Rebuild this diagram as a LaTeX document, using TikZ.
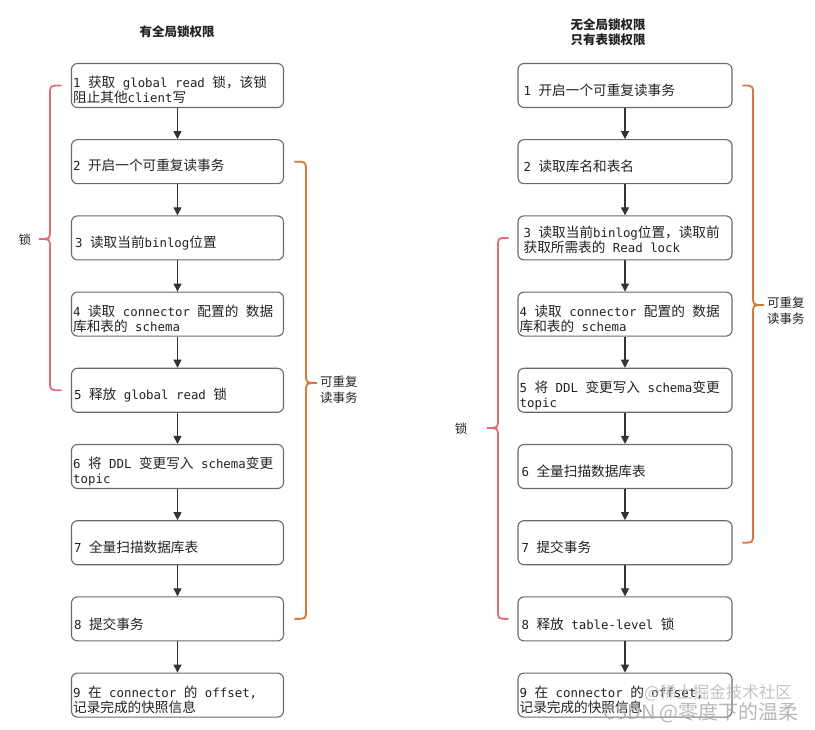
\documentclass[tikz,border=0pt]{standalone}
\usepackage{fontspec}
\setmainfont{DejaVu Sans}
\setmonofont{DejaVu Sans Mono}
\newfontfamily\cjk[Scale=1.1]{Noto Sans CJK SC}
\newfontfamily\cjkplain{Noto Sans CJK SC}
\usetikzlibrary{arrows.meta}
\newcommand\zh[1]{{\cjk #1}}
\definecolor{boxgray}{HTML}{6A6A6A}
\definecolor{arrgray}{HTML}{333333}
\definecolor{txtc}{HTML}{222222}
\definecolor{bred}{HTML}{E26C78}
\definecolor{borange}{HTML}{D9773A}
\newcommand\mybrace[7]{%
  \draw[#1,line width=1.8pt,line cap=round] (#2,#5) .. controls (#3,#5) .. (#3,{#5+9}) -- (#3,{#6-9})
    .. controls (#3,#6) .. (#4,#6) .. controls (#3,#6) .. (#3,{#6+9}) -- (#3,{#7-9})
    .. controls (#3,#7) .. (#2,#7);}
\begin{document}
\begin{tikzpicture}[x=1pt,y=-1pt,
  stepbox/.style={draw=boxgray,line width=1.1pt,rounded corners=6pt,minimum width=212pt,minimum height=44pt,inner sep=0pt},
  txt/.style={anchor=west,align=left,inner sep=0pt,text=txtc,font=\ttfamily\fontsize{12.4}{15}\selectfont},
  arr/.style={draw=arrgray,line width=1.1pt,-{Triangle[length=8pt,width=8pt]}},
  ttl/.style={align=center,text=txtc,font=\cjkplain\bfseries\fontsize{12.5}{15}\selectfont},
  lbl/.style={align=left,text=txtc,font=\cjkplain\fontsize{12.5}{15.5}\selectfont,inner sep=0pt}]
\fill[white] (0,0) rectangle (815,730);
\useasboundingbox (0,0) rectangle (815,730);

% titles
\node[ttl] (tL) at (177,32) {有全局锁权限};
\node[ttl] (tR) at (608,32.5) {无全局锁权限\\只有表锁权限};

% left column
\foreach \i/\y in {1/85.5,2/161.7,3/237.9,4/314.1,5/390.3,6/466.5,7/542.7,8/618.9,9/695.1}{
  \node[stepbox] (L\i) at (177.5,\y) {};
  \node[stepbox,minimum width=214pt] (R\i) at (625,\y) {};
}
\node[txt] (L1t) at ([xshift=2pt,yshift=-4pt]L1.west) {1 \zh{获取} global read \zh{锁，该锁}\\\zh{阻止其他}client\zh{写}};
\node[txt] (L2t) at ([xshift=2pt,yshift=-4pt]L2.west) {2 \zh{开启一个可重复读事务}};
\node[txt] (L3t) at ([xshift=4pt,yshift=-5pt]L3.west) {3 \zh{读取当前}binlog\zh{位置}};
\node[txt] (L4t) at ([xshift=2pt,yshift=-5pt]L4.west) {4 \zh{读取} connector \zh{配置的} \zh{数据}\\\zh{库和表的} schema};
\node[txt] (L5t) at ([xshift=3pt,yshift=-5pt]L5.west) {5 \zh{释放} global read \zh{锁}};
\node[txt] (L6t) at ([xshift=2pt,yshift=-5pt]L6.west) {6 \zh{将} DDL \zh{变更写入} schema\zh{变更}\\topic};
\node[txt] (L7t) at ([xshift=3pt,yshift=-5pt]L7.west) {7 \zh{全量扫描数据库表}};
\node[txt] (L8t) at ([xshift=3pt,yshift=-5pt]L8.west) {8 \zh{提交事务}};
\node[txt] (L9t) at ([xshift=2pt,yshift=-5pt]L9.west) {9 \zh{在} connector \zh{的} offset,\\\zh{记录完成的快照信息}};

% right column texts
\node[txt] (R1t) at ([xshift=6pt,yshift=-5pt]R1.west) {1 \zh{开启一个可重复读事务}};
\node[txt] (R2t) at ([xshift=6pt,yshift=-5pt]R2.west) {2 \zh{读取库名和表名}};
\node[txt] (R3t) at ([xshift=6pt,yshift=-2pt]R3.west) {3 \zh{读取当前}binlog\zh{位置，读取前}\\\zh{获取所需表的} Read lock};
\node[txt] (R4t) at ([xshift=2pt,yshift=-5pt]R4.west) {4 \zh{读取} connector \zh{配置的} \zh{数据}\\\zh{库和表的} schema};
\node[txt] (R5t) at ([xshift=2pt,yshift=-5pt]R5.west) {5 \zh{将} DDL \zh{变更写入} schema\zh{变更}\\topic};
\node[txt] (R6t) at ([xshift=4pt,yshift=-5pt]R6.west) {6 \zh{全量扫描数据库表}};
\node[txt] (R7t) at ([xshift=4pt,yshift=-5pt]R7.west) {7 \zh{提交事务}};
\node[txt] (R8t) at ([xshift=4pt,yshift=-5pt]R8.west) {8 \zh{释放} table-level \zh{锁}};
\node[txt] (R9t) at ([xshift=2pt,yshift=-5pt]R9.west) {9 \zh{在} connector \zh{的} offset,\\\zh{记录完成的快照信息}};

% arrows
\foreach \a/\b in {1/2,2/3,3/4,4/5,5/6,6/7,7/8,8/9}{
  \draw[arr] (L\a) -- (L\b);
  \draw[arr] (R\a) -- (R\b);
}

% braces
\mybrace{bred}{61}{50}{39}{85.5}{239}{390.3}
\node[lbl] (lockL) at (25,240) {锁};
\mybrace{borange}{295}{306}{317}{161.7}{383}{618.9}
\node[lbl,anchor=west] (rrL) at (320,390) {可重复\\读事务};
\mybrace{bred}{508}{498}{487}{237.9}{428}{618.9}
\node[lbl] (lockR) at (461,429) {锁};
\mybrace{borange}{743}{753}{764}{85.5}{305}{542.7}
\node[lbl,anchor=west] (rrR) at (767,311) {可重复\\读事务};

% watermark
\node[text=gray!55,opacity=0.85,font=\cjkplain\fontsize{16.5}{18}\selectfont,inner sep=0pt] (wm1) at (718,693) {@稀土掘金技术社区};
\node[text=gray!65,opacity=0.85,font=\cjkplain\fontsize{20}{22}\selectfont,inner sep=0pt] (wm2) at (701,713) {CSDN @零度下的温柔};
\end{tikzpicture}
\end{document}
